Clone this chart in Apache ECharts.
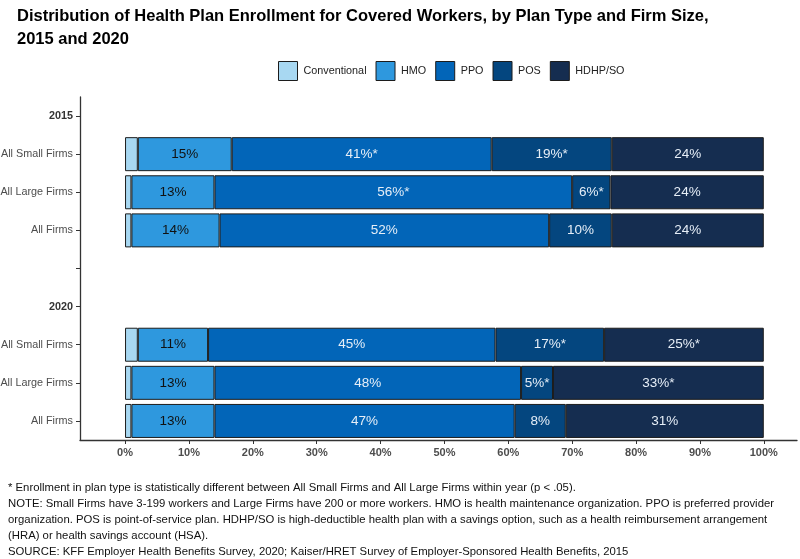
<!DOCTYPE html>
<html>
<head>
<meta charset="utf-8">
<script src="https://cdn.jsdelivr.net/npm/echarts@6/dist/echarts.min.js"></script>
<style>
  html, body { margin: 0; padding: 0; background: #fff; }
  #main { width: 800px; height: 559px; }
</style>
</head>
<body>
<div id="main"></div>
<script>
// rows top to bottom (header rows carry no bars)
const rows = ['2015', 'All Small Firms', 'All Large Firms', 'All Firms', '', '2020', 'All Small Firms', 'All Large Firms', 'All Firms'];
const headerRows = ['2015', '2020'];

const planTypes = ['Conventional', 'HMO', 'PPO', 'POS', 'HDHP/SO'];
const planColors = ['#a8d8f2', '#2e98de', '#0265b8', '#04467f', '#152d50'];
const labelColors = ['#111', '#111', '#e6eef7', '#e6eef7', '#e6eef7'];

// shares (%) per row, null = no bar
const conventional = [null, 2, 1, 1, null, null, 2, 1, 1];
const hmo = [null, 14.7, 13, 13.8, null, null, 11, 13, 13];
const ppo = [null, 40.7, 56, 51.6, null, null, 45, 48, 47];
const pos = [null, 18.8, 6, 9.8, null, null, 17, 5, 8];
const hdhp = [null, 23.8, 24, 23.8, null, null, 25, 33, 31];

// printed labels
const conventionalLabels = ['', '', '', '', '', '', '', '', ''];
const hmoLabels = ['', '15%', '13%', '14%', '', '', '11%', '13%', '13%'];
const ppoLabels = ['', '41%*', '56%*', '52%', '', '', '45%', '48%', '47%'];
const posLabels = ['', '19%*', '6%*', '10%', '', '', '17%*', '5%*', '8%'];
const hdhpLabels = ['', '24%', '24%', '24%', '', '', '25%*', '33%*', '31%'];

const xTicks = [0, 10, 20, 30, 40, 50, 60, 70, 80, 90, 100];

const seriesValues = [conventional, hmo, ppo, pos, hdhp];
const seriesLabels = [conventionalLabels, hmoLabels, ppoLabels, posLabels, hdhpLabels];

const titleLines = [
  'Distribution of Health Plan Enrollment for Covered Workers, by Plan Type and Firm Size,',
  '2015 and 2020'
];
const footLines = [
  '* Enrollment in plan type is statistically different between All Small Firms and All Large Firms within year (p < .05).',
  'NOTE: Small Firms have 3-199 workers and Large Firms have 200 or more workers. HMO is health maintenance organization. PPO is preferred provider',
  'organization. POS is point-of-service plan. HDHP/SO is high-deductible health plan with a savings option, such as a health reimbursement arrangement',
  '(HRA) or health savings account (HSA).',
  'SOURCE: KFF Employer Health Benefits Survey, 2020; Kaiser/HRET Survey of Employer-Sponsored Health Benefits, 2015'
];

const FONT = "'Liberation Sans', Arial, sans-serif";

// the original uses a narrow face; squeeze the regular one to the same width
function squeeze(text, font, target) {
  const ctx = document.createElement('canvas').getContext('2d');
  ctx.font = font;
  return Math.min(1, target / ctx.measureText(text).width);
}
const titleScale = squeeze(titleLines[0], "bold 16.5px " + FONT, 698);
const footScale = squeeze(footLines[1], "11.5px " + FONT, 766);

const chart = echarts.init(document.getElementById('main'));

const series = planTypes.map((name, k) => ({
  name: name,
  type: 'bar',
  stack: 'total',
  barWidth: 34,
  data: seriesValues[k],
  itemStyle: { color: planColors[k], borderColor: '#1c1c1c', borderWidth: 1 },
  label: {
    show: k > 0,
    position: 'inside',
    color: labelColors[k],
    fontFamily: FONT,
    fontSize: 13.5,
    formatter: p => seriesLabels[k][p.dataIndex]
  },
  emphasis: { disabled: true }
}));

const option = {
  backgroundColor: '#fff',
  animation: false,
  legend: {
    data: planTypes,
    left: 273,
    top: 56,
    itemWidth: 19,
    itemHeight: 19,
    itemGap: 9,
    icon: 'rect',
    itemStyle: { borderColor: '#1c1c1c', borderWidth: 1 },
    textStyle: { fontFamily: FONT, fontSize: 10.8, color: '#222', padding: [0, 0, 0, 1] }
  },
  grid: { left: 80, right: 3, top: 97, bottom: 119, outerBoundsMode: 'none' },
  xAxis: {
    type: 'value',
    min: -7.05,
    max: 105.2,
    axisLine: { show: true, lineStyle: { color: '#333', width: 1.3 } },
    axisTick: { show: true, customValues: xTicks, length: 4, lineStyle: { color: '#333' } },
    axisLabel: {
      customValues: xTicks,
      formatter: v => v + '%',
      fontFamily: FONT,
      fontWeight: 'bold',
      fontSize: 11,
      color: '#4d4d4d',
      margin: 7
    },
    splitLine: { show: false }
  },
  yAxis: {
    type: 'category',
    inverse: true,
    data: rows,
    axisLine: { show: true, onZero: false, lineStyle: { color: '#333', width: 1.3 } },
    axisTick: { show: true, alignWithLabel: true, length: 4, lineStyle: { color: '#333' } },
    axisLabel: {
      interval: 0,
      margin: 7,
      formatter: v => headerRows.includes(v) ? '{b|' + v + '}' : v,
      fontFamily: FONT,
      fontSize: 10.8,
      color: '#4d4d4d',
      rich: { b: { fontWeight: 'bold', fontSize: 10.8, color: '#333', fontFamily: FONT } }
    },
    splitLine: { show: false }
  },
  graphic: [
    {
      type: 'text',
      x: 17,
      y: 5,
      scaleX: titleScale,
      silent: true,
      style: {
        text: titleLines.join('\n'),
        font: "bold 16.5px " + FONT,
        lineHeight: 23,
        verticalAlign: 'top',
        fill: '#000'
      }
    },
    {
      type: 'text',
      x: 8,
      y: 480,
      scaleX: footScale,
      silent: true,
      style: {
        text: footLines.join('\n'),
        font: "11.5px " + FONT,
        lineHeight: 16,
        verticalAlign: 'top',
        fill: '#111'
      }
    }
  ],
  series: series
};

chart.setOption(option);
</script>
</body>
</html>
